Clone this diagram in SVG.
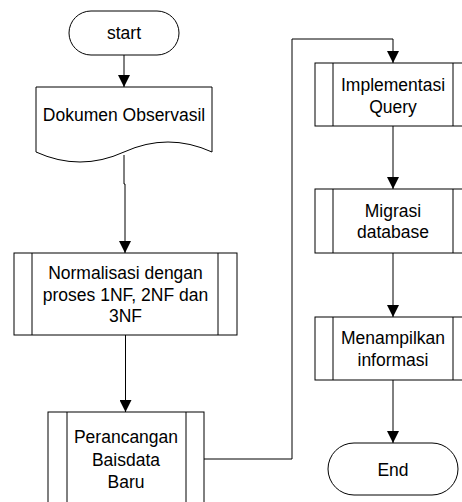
<svg xmlns="http://www.w3.org/2000/svg" width="462" height="502" viewBox="0 0 462 502">
<defs>
<marker id="arr" markerWidth="12" markerHeight="12" refX="12" refY="6" orient="auto" markerUnits="userSpaceOnUse">
<path d="M0,0 L12,6 L0,12 Z" fill="#000"/>
</marker>
<style>
.s{fill:#fff;stroke:#000;stroke-width:1}
.l{fill:none;stroke:#000;stroke-width:1}
.c{fill:none;stroke:#000;stroke-width:1;marker-end:url(#arr)}
text{font-family:"Liberation Sans",Arial,sans-serif;font-size:17.5px;fill:#000;text-anchor:middle}
</style>
</defs>
<rect width="462" height="502" fill="#fff"/>
<g id="connectors">
<path class="c" d="M124,55 V87"/>
<path class="c" d="M124,155 V184 H125 V253"/>
<path class="c" d="M125.5,335 V412"/>
<path class="c" d="M204,459 H292 V39 H393 V63"/>
<path class="c" d="M393,126 V189"/>
<path class="c" d="M393,253 V317"/>
<path class="c" d="M393,380 V443"/>
</g>
<g id="start">
<rect class="s" x="69" y="11" width="110" height="44" rx="22"/>
<text x="124" y="39">start</text>
</g>
<g id="dokumen">
<path class="s" d="M36,87 H212 V152 Q168,132 124,152 Q80,172 36,152 Z"/>
<text x="124" y="121">Dokumen Observasil</text>
</g>
<g id="normalisasi">
<rect class="s" x="14" y="253" width="223" height="82"/>
<path class="l" d="M32,253 V335 M218,253 V335"/>
<text x="125.5" y="279">Normalisasi dengan</text>
<text x="125.5" y="301">proses 1NF, 2NF dan</text>
<text x="125.5" y="322">3NF</text>
</g>
<g id="perancangan">
<rect class="s" x="48" y="412" width="156" height="100"/>
<path class="l" d="M67,412 V512 M186,412 V512"/>
<text x="126" y="443">Perancangan</text>
<text x="126" y="466">Baisdata</text>
<text x="126" y="488">Baru</text>
</g>
<g id="implementasi">
<rect class="s" x="315" y="63" width="156" height="63"/>
<path class="l" d="M333,63 V126 M453,63 V126"/>
<text x="393" y="91">Implementasi</text>
<text x="393" y="113">Query</text>
</g>
<g id="migrasi">
<rect class="s" x="315" y="189" width="156" height="64"/>
<path class="l" d="M333,189 V253 M453,189 V253"/>
<text x="393" y="217">Migrasi</text>
<text x="393" y="238">database</text>
</g>
<g id="menampilkan">
<rect class="s" x="315" y="317" width="156" height="63"/>
<path class="l" d="M333,317 V380 M453,317 V380"/>
<text x="393" y="344">Menampilkan</text>
<text x="393" y="366">informasi</text>
</g>
<g id="end">
<rect class="s" x="328" y="443" width="130" height="52" rx="26"/>
<text x="393" y="476">End</text>
</g>
</svg>
